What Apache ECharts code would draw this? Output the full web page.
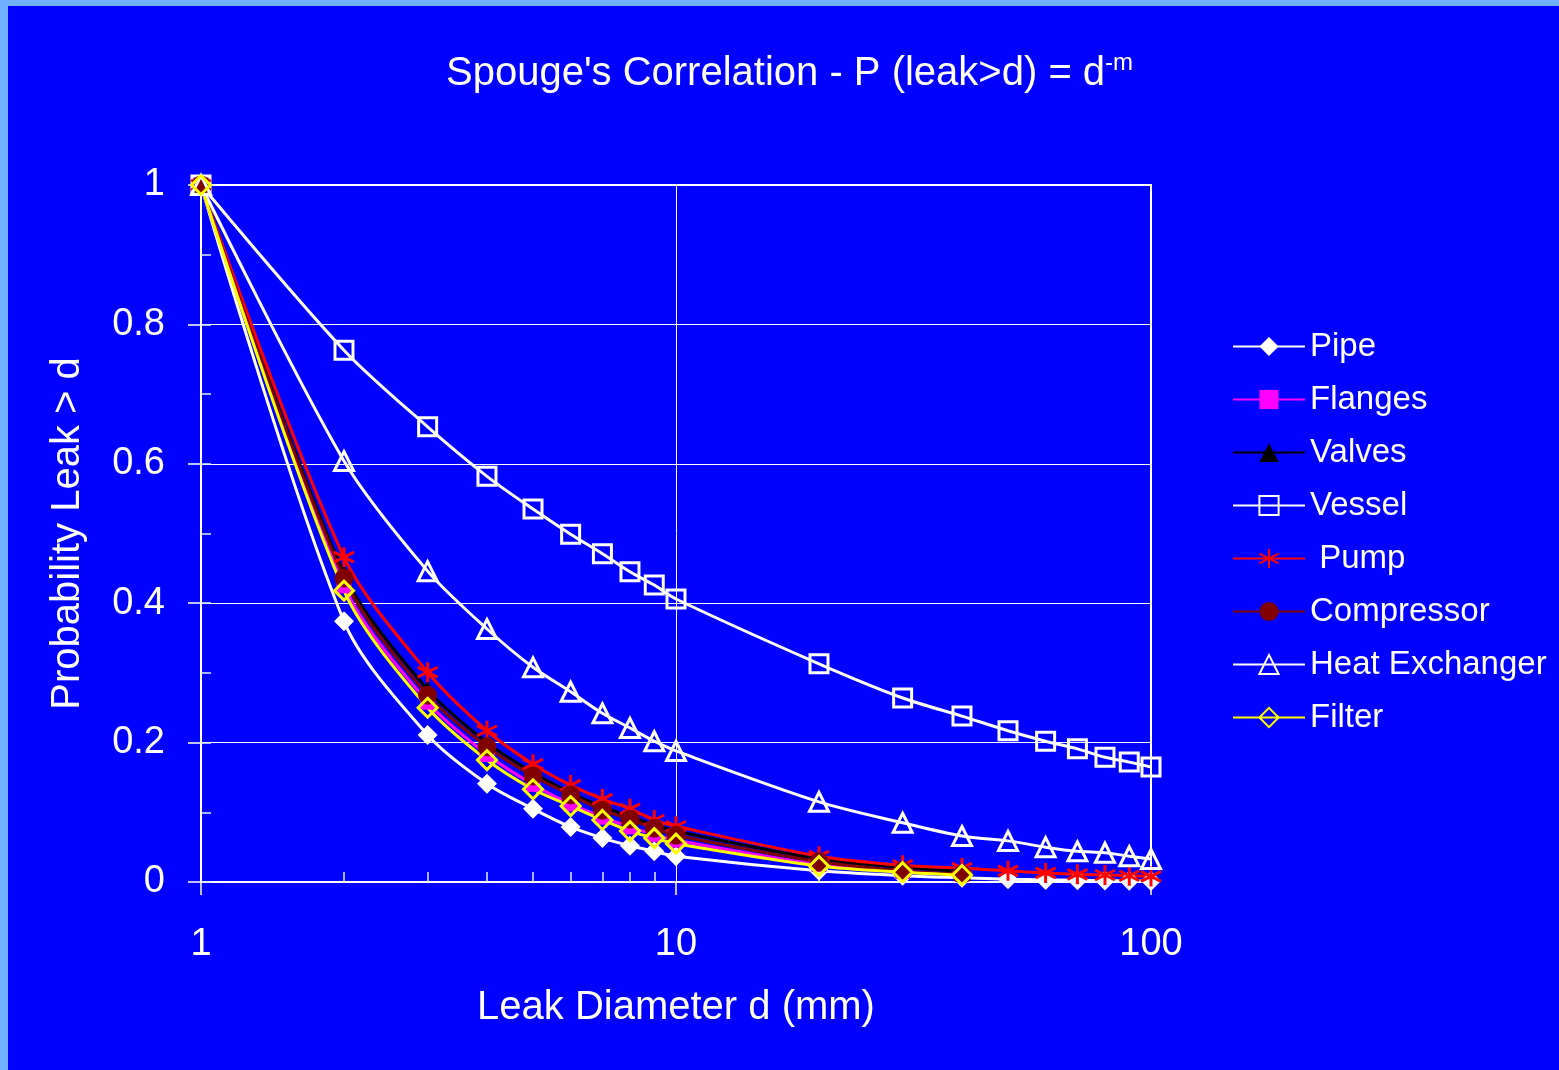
<!DOCTYPE html>
<html><head><meta charset="utf-8">
<script src="https://cdn.jsdelivr.net/npm/echarts@6/dist/echarts.min.js"></script>
<style>html,body{margin:0;padding:0;background:#0000FF}#c{width:1559px;height:1070px}</style>
</head><body><div id="c"></div>
<script>
// ---- data ----
const xFull  = [1,2,3,4,5,6,7,8,9,10,20,30,40,50,60,70,80,90,100];
const xShort = [1,2,3,4,5,6,7,8,9,10,20,30,40];

const pipe       = [1,0.374,0.211,0.141,0.105,0.079,0.063,0.052,0.044,0.037,0.016,0.009,0.006,0.004,0.003,0.0025,0.002,0.0017,0.0014];
const flanges    = [1,0.425,0.258,0.183,0.140,0.112,0.093,0.079,0.068,0.060,0.025,0.015,0.011];
const valves     = [1,0.442,0.276,0.200,0.157,0.128,0.108,0.094,0.082,0.073,0.033,0.021,0.015];
const vessel     = [1,0.763,0.653,0.582,0.535,0.499,0.471,0.445,0.426,0.406,0.313,0.264,0.238,0.217,0.202,0.191,0.179,0.172,0.165];
const pump       = [1,0.466,0.301,0.217,0.169,0.139,0.119,0.105,0.089,0.080,0.037,0.024,0.020,0.016,0.013,0.011,0.010,0.009,0.008];
const compressor = [1,0.436,0.268,0.194,0.152,0.125,0.103,0.090,0.077,0.067,0.029,0.016,0.011];
const heatEx     = [1,0.604,0.446,0.363,0.308,0.273,0.242,0.221,0.202,0.188,0.115,0.085,0.066,0.059,0.050,0.044,0.042,0.037,0.033];
const filter     = [1,0.418,0.250,0.175,0.133,0.109,0.089,0.073,0.063,0.055,0.023,0.014,0.010];

const xMinorTicks = [2,3,4,5,6,7,8,9,20,30,40,50,60,70,80,90];

const FONT = '"Liberation Sans", Arial, sans-serif';
const pair = (xs, ys) => ys.map((v, i) => [xs[i], v]);

const starPath = 'path://M5,0L5,10M0.7,2.5L9.3,7.5M9.3,2.5L0.7,7.5';

function mk(name, xs, ys, lineColor, symbol, size, fill, border, bw) {
  return {
    name: name, type: 'line', data: pair(xs, ys),
    smooth: 0.3,
    symbol: symbol, symbolSize: size, showSymbol: true,
    lineStyle: { color: lineColor, width: 3 },
    itemStyle: { color: fill, borderColor: border, borderWidth: bw },
    emphasis: { disabled: true },
    xAxisIndex: 0, yAxisIndex: 0
  };
}

const series = [
  mk('Pipe', xFull, pipe, '#FFFFFF', 'diamond', 20, '#FFFFFF', '#FFFFFF', 0),
  mk('Flanges', xShort, flanges, '#FF00FF', 'rect', 15, '#FF00FF', '#FF00FF', 0),
  mk('Valves', xShort, valves, '#000000', 'triangle', 18, '#000000', '#000000', 0),
  mk('Vessel', xFull, vessel, '#FFFFFF', 'rect', 18, 'rgba(0,0,0,0)', '#FFFFFF', 3),
  mk(' Pump', xFull, pump, '#FF0000', starPath, 20, 'rgba(0,0,0,0)', '#FF0000', 3),
  mk('Compressor', xShort, compressor, '#800000', 'circle', 19, '#800000', '#800000', 0),
  mk('Heat Exchanger', xFull, heatEx, '#FFFFFF', 'triangle', 19, 'rgba(0,0,0,0)', '#FFFFFF', 3),
  mk('Filter', xShort, filter, '#FFFF00', 'diamond', 19, 'rgba(0,0,0,0)', '#FFFF00', 3)
];

const chart = echarts.init(document.getElementById('c'), null, { renderer: 'canvas' });
chart.setOption({
  animation: false,
  backgroundColor: '#0000FF',
  graphic: [
    { type: 'rect', left: 0, top: 0, shape: { width: 1559, height: 6 }, style: { fill: '#6FAFFF' }, z: 100 },
    { type: 'rect', left: 0, top: 0, shape: { width: 8, height: 1070 }, style: { fill: '#6FAFFF' }, z: 100 }
  ],
  title: {
    text: "{a|Spouge's Correlation - P (leak>d) = d}{b|-m}",
    left: 441, top: 46,
    textStyle: {
      fontWeight: 'normal',
      rich: {
        a: { color: '#fff', fontSize: 40, fontFamily: FONT, fontWeight: 'normal', lineHeight: 46 },
        b: { color: '#fff', fontSize: 24, fontFamily: FONT, fontWeight: 'normal', verticalAlign: 'top', lineHeight: 46 }
      }
    }
  },
  legend: {
    orient: 'vertical', left: 1227, top: 325,
    itemWidth: 72, itemHeight: 24, itemGap: 20,
    textStyle: { color: '#fff', fontSize: 33, fontFamily: FONT },
    data: series.map(s => s.name)
  },
  grid: {
    left: 201, top: 185, right: 408, bottom: 188,
    show: true, borderColor: '#FFFFFF', borderWidth: 2, backgroundColor: 'transparent'
  },
  xAxis: [
    {
      type: 'log', logBase: 10, min: 1, max: 100,
      name: 'Leak Diameter d (mm)', nameLocation: 'middle', nameGap: 106,
      nameTextStyle: { color: '#fff', fontSize: 40, fontFamily: FONT },
      axisLine: { lineStyle: { color: '#fff', width: 2 } },
      axisTick: { show: true, inside: false, length: 13, lineStyle: { color: '#fff', width: 1.5 } },
      axisLabel: { color: '#fff', fontSize: 38, fontFamily: FONT, margin: 44 },
      splitLine: { show: true, lineStyle: { color: '#fff', width: 1 } }
    },
    {
      type: 'log', logBase: 10, min: 1, max: 100, position: 'bottom', offset: 0,
      axisLine: { show: false },
      axisLabel: { show: false },
      splitLine: { show: false },
      axisTick: { show: true, inside: true, length: 10, customValues: xMinorTicks,
                  lineStyle: { color: '#ddeeff', width: 1.5 } }
    }
  ],
  yAxis: [
    {
      type: 'value', min: 0, max: 1, interval: 0.2,
      name: 'Probability Leak > d', nameLocation: 'middle', nameGap: 113,
      nameTextStyle: { color: '#fff', fontSize: 40, fontFamily: FONT },
      axisLine: { show: true, lineStyle: { color: '#fff', width: 2 } },
      axisTick: { show: true, inside: false, length: 13, lineStyle: { color: '#fff', width: 1.5 } },
      axisLabel: { color: '#fff', fontSize: 38, fontFamily: FONT, margin: 36,
                   formatter: v => String(+v.toFixed(1)) },
      splitLine: { show: true, lineStyle: { color: '#fff', width: 1 } }
    },
    {
      type: 'value', min: 0, max: 1, interval: 0.1, position: 'left', offset: 0,
      axisLine: { show: false },
      axisLabel: { show: false },
      splitLine: { show: false },
      axisTick: { show: true, inside: true, length: 10, lineStyle: { color: '#ddeeff', width: 1.5 } }
    }
  ],
  series: series
});
</script>
</body></html>
